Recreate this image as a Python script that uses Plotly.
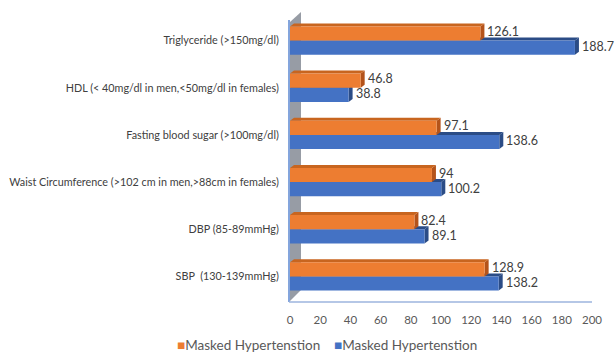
import plotly.graph_objects as go

# Metabolic criteria, listed top to bottom
categories = [
    "Triglyceride (>150mg/dl)",
    "HDL (< 40mg/dl in men,<50mg/dl in females)",
    "Fasting blood sugar (>100mg/dl)",
    "Waist Circumference (>102 cm in men,>88cm in females)",
    "DBP (85-89mmHg)",
    "SBP  (130-139mmHg)",
]
orange_values = [126.1, 46.8, 97.1, 94, 82.4, 128.9]
blue_values = [188.7, 38.8, 138.6, 100.2, 89.1, 138.2]
series_name = "Masked Hypertenstion"
x_ticks = [0, 20, 40, 60, 80, 100, 120, 140, 160, 180, 200]

ORANGE, ORANGE_DARK, ORANGE_TOP = "#ED7D31", "#B4531A", "#C8651F"
BLUE, BLUE_DARK = "#4472C4", "#2B4C86"
TEXT = "#404040"
FONT = "Lato"

W, H = 615, 355
ML, MR, MT, MB = 290, 23, 17, 55
n = len(categories)
ypos = [n - 1 - i for i in range(n)]  # top category highest

fig = go.Figure()
fig.add_trace(go.Bar(y=ypos, x=blue_values, orientation="h", name=series_name,
                     marker=dict(color=BLUE, line=dict(width=0)), showlegend=False))
fig.add_trace(go.Bar(y=ypos, x=orange_values, orientation="h", name=series_name,
                     marker=dict(color=ORANGE, line=dict(width=0)), showlegend=False))

# 3-D depth of each bar: right side face and top face
px_per_x = (W - ML - MR) / 200.0
px_per_y = (H - MT - MB) / float(n)
dx = 4 / px_per_x
dy = 3 / px_per_y
half = 0.3
shapes = []


def poly(pts, color):
    path = "M " + " L ".join(f"{a},{b}" for a, b in pts) + " Z"
    return dict(type="path", path=path, xref="x", yref="y", fillcolor=color,
                line=dict(width=0), layer="below")


for yc, v in zip(ypos, blue_values):
    y0, y1 = yc - half, yc
    shapes.append(poly([(v, y0), (v, y1), (v + dx, y1 + dy), (v + dx, y0 + dy)], BLUE_DARK))
    shapes.append(poly([(0, y1), (v, y1), (v + dx, y1 + dy), (dx, y1 + dy)], BLUE_DARK))
for yc, v in zip(ypos, orange_values):
    y0, y1 = yc, yc + half
    shapes.append(poly([(v, y0), (v, y1), (v + dx, y1 + dy), (v + dx, y0 + dy)], ORANGE_DARK))
    shapes.append(poly([(0, y1), (v, y1), (v + dx, y1 + dy), (dx, y1 + dy)], ORANGE_TOP))


# back wall and floor edge, in pixel space converted to paper coordinates
def px(xp):
    return (xp - ML) / (W - ML - MR)


def py(yp):
    return (H - MB - yp) / (H - MT - MB)


wall = [(290, 301), (290, 22), (301, 12), (301, 290)]
shapes.insert(0, dict(type="path", xref="paper", yref="paper", layer="below",
                      path="M " + " L ".join(f"{px(a)},{py(b)}" for a, b in wall) + " Z",
                      fillcolor="#979CA5", line=dict(width=0)))
shapes.append(dict(type="line", xref="paper", yref="paper", layer="above",
                   x0=px(289), x1=px(289), y0=py(302), y1=py(20),
                   line=dict(color="#5B87D0", width=1.5)))
shapes.append(dict(type="line", xref="paper", yref="paper", layer="above",
                   x0=px(289), x1=px(592), y0=py(302), y1=py(302),
                   line=dict(color="#9DB5DE", width=1.5)))

# value labels beside each bar
annotations = []
for yc, v in zip(ypos, blue_values):
    annotations.append(dict(x=v, y=yc - half / 2, xref="x", yref="y", text=f"{v:g}",
                            showarrow=False, xanchor="left", xshift=5, yshift=1,
                            font=dict(family=FONT, size=12.5, color=TEXT)))
for yc, v in zip(ypos, orange_values):
    annotations.append(dict(x=v, y=yc + half / 2, xref="x", yref="y", text=f"{v:g}",
                            showarrow=False, xanchor="left", xshift=5, yshift=2,
                            font=dict(family=FONT, size=12.5, color=TEXT)))

# legend row beneath the axis
for x_left, color in [(175, ORANGE), (332, BLUE)]:
    annotations.append(dict(
        x=px(x_left), y=py(345), xref="paper", yref="paper",
        xanchor="left", yanchor="middle", showarrow=False,
        text=f"<span style='color:{color}'>■</span>{series_name}",
        font=dict(family=FONT, size=13.5, color="#595959")))

fig.update_layout(
    width=W, height=H,
    margin=dict(l=ML, r=MR, t=MT, b=MB, autoexpand=False),
    paper_bgcolor="white", plot_bgcolor="white",
    barmode="group", bargap=0.4, bargroupgap=0,
    font=dict(family=FONT, color=TEXT),
    shapes=shapes, annotations=annotations,
    showlegend=False,
    xaxis=dict(range=[0, 200], tickvals=x_ticks, showgrid=False, zeroline=False,
               showline=False, ticks="outside", ticklen=9, tickcolor="rgba(0,0,0,0)",
               tickfont=dict(family=FONT, size=11.5, color="#595959")),
    yaxis=dict(range=[-0.5, n - 0.5], tickvals=ypos, ticktext=categories,
               showgrid=False, zeroline=False, showline=False,
               ticks="outside", ticklen=8, tickcolor="rgba(0,0,0,0)",
               tickfont=dict(family=FONT, size=10.8, color=TEXT)),
)

fig.write_html("out.html")
